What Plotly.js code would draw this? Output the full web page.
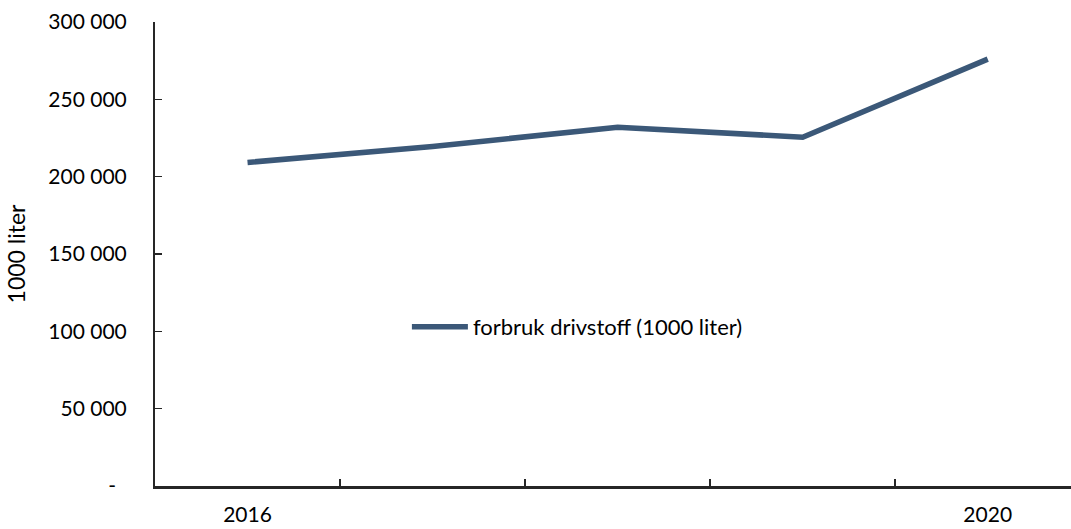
<!DOCTYPE html>
<html>
<head>
<meta charset="utf-8">
<script src="https://cdn.plot.ly/plotly-3.0.1.min.js"></script>
<style>
  html, body { margin: 0; padding: 0; background: #ffffff; }
  #chart { width: 1071px; height: 529px; }
</style>
</head>
<body>
<div id="chart"></div>
<script>
// Fuel consumption per year, in 1000 litres
const years = ['2016', '2017', '2018', '2019', '2020'];
const yearLabels = ['2016', '', '', '', '2020'];
const consumption = [209200, 219500, 232000, 225500, 276000];
const yTickVals = [0, 50000, 100000, 150000, 200000, 250000, 300000];
const yTickText = ['-\u00a0\u00a0', '50 000', '100 000', '150 000', '200 000', '250 000', '300 000'];
const seriesName = 'forbruk drivstoff (1000 liter)';

const font = { family: 'Lato, "Noto Sans", sans-serif', size: 21, color: '#000000' };
const legendFont = { family: font.family, size: 22, color: '#000000' };
const titleFont = { family: font.family, size: 23, color: '#000000' };

const trace = {
  type: 'scatter',
  mode: 'lines',
  x: years,
  y: consumption,
  name: seriesName,
  line: { color: '#3b5878', width: 5.5 },
  hoverinfo: 'skip'
};

const layout = {
  width: 1071,
  height: 529,
  margin: { l: 155, r: 0, t: 22, b: 43 },
  paper_bgcolor: '#ffffff',
  plot_bgcolor: '#ffffff',
  font: font,
  showlegend: true,
  legend: {
    x: 0.275, y: 0.343, xanchor: 'left', yanchor: 'middle',
    bgcolor: 'rgba(0,0,0,0)', font: legendFont, itemwidth: 56
  },
  xaxis: {
    type: 'category',
    range: [-0.5, 4.45],
    tickmode: 'array',
    tickvals: years,
    ticktext: yearLabels,
    tickson: 'boundaries',
    ticks: 'inside',
    ticklen: 7,
    tickwidth: 1.5,
    tickcolor: '#262626',
    showline: true,
    linecolor: '#262626',
    linewidth: 2.5,
    showgrid: false,
    zeroline: false,
    tickfont: font,
    ticklabelstandoff: 8,
    fixedrange: true
  },
  yaxis: {
    range: [0, 300000],
    tickmode: 'array',
    tickvals: yTickVals,
    ticktext: yTickText,
    ticks: 'inside',
    ticklen: 7,
    tickwidth: 1.5,
    tickcolor: '#262626',
    showline: true,
    linecolor: '#262626',
    linewidth: 2,
    showgrid: false,
    zeroline: false,
    tickfont: font,
    ticklabelstandoff: 22,
    title: { text: '1000 liter', font: titleFont, standoff: 16 },
    automargin: false,
    fixedrange: true
  }
};

Plotly.newPlot('chart', [trace], layout, { displayModeBar: false, staticPlot: true });
</script>
</body>
</html>
